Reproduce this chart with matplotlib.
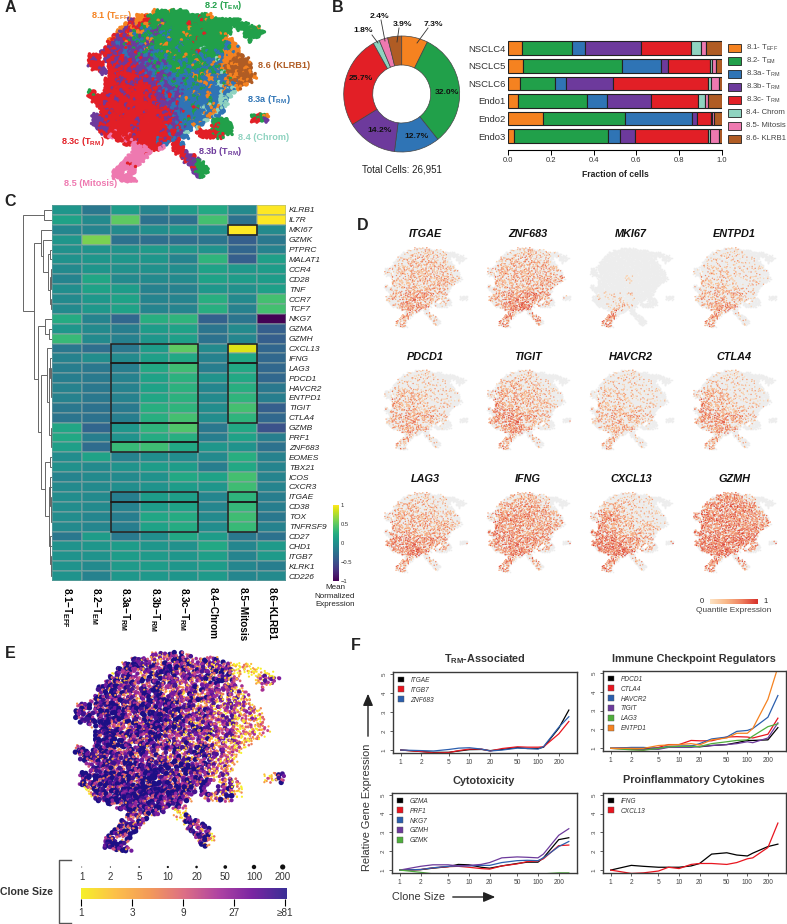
import matplotlib
matplotlib.use("Agg")
import numpy as np
import matplotlib.pyplot as plt
from matplotlib.colors import LinearSegmentedColormap
from matplotlib.patches import Patch, Rectangle

plt.rcParams['font.family'] = ['Liberation Sans', 'DejaVu Sans']
plt.rcParams['mathtext.fontset'] = 'custom'
plt.rcParams['mathtext.rm'] = 'Liberation Sans'
plt.rcParams['mathtext.it'] = 'Liberation Sans:italic'
plt.rcParams['mathtext.bf'] = 'Liberation Sans:bold'
plt.rcParams['mathtext.default'] = 'regular'

W, H = 787, 924

# cluster colours
cluster_names = ['8.1- T$_{EFF}$', '8.2- T$_{EM}$', '8.3a- T$_{RM}$', '8.3b- T$_{RM}$',
                 '8.3c- T$_{RM}$', '8.4- Chrom', '8.5- Mitosis', '8.6- KLRB1']
cluster_colors = ['#f58220', '#21a04a', '#2f74b5', '#6d3a9c', '#e21f26', '#8fd3c0', '#ee79b0', '#b05c24']
code_colors = dict(zip('ogbprtmk', cluster_colors))

# panel A on a 4 px lattice, one letter per cell
umap_rows = [
    "                 ogggogggg",
    "             oorgggggggggggggggo",
    "           proorgggpgggggggggrggggggggg",
    "          orpogogggoggggggrgggggggggggggg",
    "         oprorggbgpgggggggogggggggggg gggggo",
    "        oprpgoobgpggbgggggggggrgggggg   ggggg",
    "       rprpobgpgbgggbggggogggggggggo    gggg",
    "      orpprpgbpgoggggbggggggrggggggoo    g",
    "      rpbpgrpgbgpgggogggbggggggggggbbo",
    "     rprppbpgppogbgggggbgggggtgggggbgoo",
    "    prrprpbpprbgpgbggoggbgggrggggbgoobo",
    " rrr rprprbppgpbpbggbggggogggbgggbboookk",
    " rpr prrprprpbppgbpgbgbggbggogbbgtbookkkk",
    " rrrr rprpprprpbpgpbpgggbggbgggbobookokkkk",
    "  rrp rrprrprpppbpgbgbgoggbggbbgbgokokkkok",
    "    pprrrprprprpbpgpbbgbgbgobgobgbtgkkokkk",
    "      rrrprrrpprpbppgpbgbbgogbbobobbookkkko",
    "     rrrrprrrprpprpgbbpbbgbbogbobgbokkkokk",
    "     rrrprrrprrrpprbpbgbpbbgbbobbtbgoboko",
    "     rrprrrrprrrrprpbpbpbbgbbgbobbbobto",
    " gr  rrrrprrrrrprpprbpbpbbbobbbobbtbbt",
    " rrrrrprrrrprrrrprppbrbpbbbgbbbobbtbt",
    "  rrrrrrprrrrrrprrprpbpbbobbbbbgbbtb",
    "   rrprrrrprrrrrrprpppbrbbbgbbbobbtt",
    "    rrrrrrrrprrrrrrprpbpbbbrbbtbbob",
    "    rrprrrrrrrrprrrrprpbpbbgbbbbotb",
    "  pprrrrrprrrrrrrrprrpbpbbrbbbbotb        grgo",
    "  ppprrrrrrrrprrrrrrprbpbbgbbbt gggg      rrgp",
    "  pprprrrrrrrrrrrrrrrrpbrbbobb  grggg      ",
    "   ppprrrrrrprrrrrrrrbprbbb t   rgggg",
    "    rprrrrrrrrrrrrrprprbpt  rrrrrgggg",
    "     rmrrrrrprrrrrrrrbrpbb   rrrrgr",
    "        rrmrrrrrrrbrrrbr",
    "          rrmmrrrrrpb rrb",
    "            mmmmrrrm  rrr",
    "            mmmmm      rrp",
    "           mmmmm        rrpr",
    "          mmmmm          rppg",
    "         mmrmm            ppgg",
    "        mmmmm              rggg",
    "       mmm mm              pggg",
    "       mmmmm                pg",
    "         mmmm",
]

# heatmap panel C
heat_genes = ['KLRB1', 'IL7R', 'MKI67', 'GZMK', 'PTPRC', 'MALAT1', 'CCR4', 'CD28', 'TNF', 'CCR7',
              'TCF7', 'NKG7', 'GZMA', 'GZMH', 'CXCL13', 'IFNG', 'LAG3', 'PDCD1', 'HAVCR2', 'ENTPD1',
              'TIGIT', 'CTLA4', 'GZMB', 'PRF1', 'ZNF683', 'EOMES', 'TBX21', 'ICOS', 'CXCR3', 'ITGAE',
              'CD38', 'TOX', 'TNFRSF9', 'CD27', 'CHD1', 'ITGB7', 'KLRK1', 'CD226']
heat_cols = ['8.1\u2212T$_{EFF}$', '8.2\u2212T$_{EM}$', '8.3a\u2212T$_{RM}$', '8.3b\u2212T$_{RM}$',
             '8.3c\u2212T$_{RM}$', '8.4\u2212Chrom', '8.5\u2212Mitosis', '8.6\u2212KLRB1']
heat_vals = [
    [.05, -.2, .1, -.1, .1, .2, -.05, 1.0],
    [.15, -.05, .5, -.25, -.25, .4, -.25, 1.0],
    [-.08, -.1, -.05, -.02, .05, -.02, 1.0, -.05],
    [.05, .6, -.25, -.28, -.28, -.22, -.4, -.2],
    [0, .03, .03, .08, .05, .02, -.35, -.12],
    [.02, .05, .05, .05, -.1, .3, -.4, .12],
    [-.05, .04, 0, 0, -.03, .15, .07, .1],
    [-.1, .18, -.05, -.05, -.05, .15, .1, .1],
    [-.02, .15, .1, -.12, -.12, .06, 0, .12],
    [-.05, .07, .15, -.1, -.1, .25, -.05, .4],
    [-.05, .07, .15, -.1, -.1, .25, -.12, .4],
    [.22, -.1, -.33, .25, .3, -.38, -.22, -1],
    [.05, -.05, -.15, .1, .15, -.22, -.05, -.4],
    [.35, -.05, -.13, .05, .12, -.25, -.08, -.4],
    [-.2, -.28, -.2, .1, .5, -.05, .9, -.35],
    [-.12, -.03, -.05, .12, .2, -.12, .2, -.33],
    [-.15, -.2, -.15, .2, .38, -.15, .2, -.33],
    [-.15, -.18, -.12, .15, .28, .03, .2, -.33],
    [-.12, -.2, -.12, .15, .28, -.08, .25, -.2],
    [-.12, -.2, -.12, .18, .28, -.05, .3, -.15],
    [-.2, -.25, -.18, .25, .3, -.03, .4, -.4],
    [-.22, -.25, -.15, .25, .4, -.03, .3, -.33],
    [.18, -.35, .05, .3, .45, -.2, .2, -.5],
    [.2, -.15, .03, .22, .25, -.15, .15, -.15],
    [.12, -.3, .35, .38, .2, .05, .03, -.25],
    [-.03, .15, -.12, -.02, -.03, -.05, .25, -.12],
    [0, -.05, .03, .1, .1, -.15, .2, -.1],
    [-.1, -.05, -.05, .02, .2, .15, .4, -.1],
    [-.05, -.05, -.02, .03, .1, .05, .38, -.1],
    [-.03, -.05, -.15, .1, .12, -.08, .3, -.15],
    [-.03, -.05, -.12, .1, .15, -.08, .33, -.15],
    [-.03, -.08, -.15, .18, .22, -.05, .38, -.2],
    [-.05, -.08, -.15, .15, .22, -.03, .35, -.12],
    [-.2, .1, -.18, -.02, .2, .1, -.2, -.25],
    [.03, .05, .1, .05, 0, .2, -.08, .08],
    [.03, .03, .1, .08, .05, .12, -.1, .08],
    [.03, -.05, .08, .1, .05, .1, -.08, -.15],
    [.03, -.12, .06, .07, .04, .08, -.08, -.05],
]
# (first col, last col, first row, last row)
heat_boxes = [(2, 4, 14, 15), (2, 4, 16, 21), (2, 4, 22, 23), (2, 4, 24, 24), (2, 4, 29, 29), (2, 4, 30, 32),
              (6, 6, 2, 2), (6, 6, 14, 15), (6, 6, 16, 21), (6, 6, 29, 29), (6, 6, 30, 32)]
# nested merges: (height, left, right)
dendro = (29, (8, 'KLRB1', 'IL7R'),
          (18,
           (11, 'MKI67', (9.5, 'GZMK',
                          (4, (2.5, 'PTPRC', 'MALAT1'),
                           (2.5, (1.5, 'CCR4', (1, 'CD28', 'TNF')), (1, 'CCR7', 'TCF7'))))),
           (14, (7.7, 'NKG7', (3, 'GZMA', 'GZMH')),
            (11.5,
             (5.5, 'CXCL13', (3, (2, 'IFNG', (1.5, 'LAG3', (1, 'PDCD1', (.8, 'HAVCR2', (.6, 'ENTPD1', (.4, 'TIGIT', 'CTLA4')))))),
                              (1.5, 'GZMB', (1, 'PRF1', 'ZNF683')))),
             (7.5, (2.5, 'EOMES', 'TBX21'),
              (3.5, (2.5, 'ICOS', (2, 'CXCR3', (1.5, 'ITGAE', (1, 'CD38', (.6, 'TOX', 'TNFRSF9'))))),
               (2.5, 'CD27', (2, 'CHD1', (1.5, 'ITGB7', (1, 'KLRK1', 'CD226'))))))))))

# pie and stacked bars panel B
pie_share = [7.3, 32.0, 12.7, 14.2, 25.7, 1.8, 2.4, 3.9]
samples = ['NSCLC4', 'NSCLC5', 'NSCLC6', 'Endo1', 'Endo2', 'Endo3']
sample_frac = [
    [.067, .233, .061, .259, .234, .046, .024, .076],
    [.072, .462, .183, .029, .198, .008, .018, .030],
    [.058, .160, .053, .220, .444, .015, .038, .012],
    [.048, .320, .093, .206, .222, .030, .017, .064],
    [.162, .385, .311, .024, .068, .005, .008, .037],
    [.027, .439, .059, .070, .338, .011, .042, .014],
]

# panel D, share of expressing cells per coarse region of the map (0-9)
expr_genes = ['ITGAE', 'ZNF683', 'MKI67', 'ENTPD1', 'PDCD1', 'TIGIT', 'HAVCR2', 'CTLA4', 'LAG3', 'IFNG', 'CXCL13', 'GZMH']
expr_itgae = ["0013331000", "0234443100", "3344444321", "2344444430", "3345544320", "3567754302", "0376653000", "0565144000", "0640530000"]
expr_znf683 = ["0023432100", "0344544100", "4455555421", "3455555560", "3455655540", "4677886532", "0588974000", "0783166000", "0860760000"]
expr_mki67 = ["0000000000", "0000000000", "0000000000", "0000100000", "0000000000", "0111100000", "0023100000", "0480000000", "0870000000"]
expr_entpd1 = ["0011110000", "0122211000", "2233222110", "2333222210", "2344322210", "3555542101", "0466631000", "0574122000", "0750310000"]
expr_pdcd1 = ["0011210000", "0222221000", "2344322110", "3544322210", "3555432210", "3666553102", "0465431000", "0453132000", "0630310000"]
expr_tigit = ["0022320000", "0344332100", "4555443210", "4655443320", "5766543320", "6788654203", "0577543000", "0563143000", "0740520000"]
expr_havcr2 = ["0011210000", "0122211000", "2333211100", "2333222110", "3444332100", "3555543102", "0344431000", "0443022000", "0540310000"]
expr_ctla4 = ["0011110000", "0232211000", "4454211100", "4654321110", "5755432210", "5777653102", "0566532000", "0552132000", "0640310000"]
expr_lag3 = ["0023321000", "0344332100", "4455543320", "4555544430", "5666554430", "7888776403", "0789765000", "0664143000", "0750520000"]
expr_ifng = ["0034541000", "0466665200", "5677766530", "6777665650", "6877666550", "6888876505", "0688775000", "0783165000", "0860740000"]
expr_cxcl13 = ["0012221000", "0344321100", "5675322110", "6764433320", "7876553320", "9998765407", "0999875000", "0884143000", "0960420000"]
expr_gzmh = ["0067762000", "0788887300", "7888877640", "7888877760", "7888887760", "8999998607", "0999886000", "0885287000", "0870850000"]
expr_grids = [expr_itgae, expr_znf683, expr_mki67, expr_entpd1, expr_pdcd1, expr_tigit,
              expr_havcr2, expr_ctla4, expr_lag3, expr_ifng, expr_cxcl13, expr_gzmh]

# panel E, typical clone size class per coarse region (0 small - 9 large)
clone_grid = ["0065655000", "0656555440", "7766654310", "7766554220", "7766554310", "7777664327", "0777765000", "0765077000", "0766760000"]
clone_legend = [1, 2, 5, 10, 20, 50, 100, 200]
clone_ticks = ['1', '3', '9', '27', '\u226581']

# hand scrambled digits, used to break the lattice into speckle
speckle = ["3810627495138", "6295183074926", "0748361952704", "9153706284139",
           "4627915038562", "1809342761985", "7356028491370", "2941675803614",
           "8063294157829", "5172840639251", "0496517382047"]

# panel F
clone_x = [1, 2, 3, 5, 7, 10, 15, 20, 30, 50, 70, 100, 120, 200, 280]
clone_xticks = [1, 2, 5, 10, 20, 50, 100, 200]
line_colors = ['#000000', '#e8151f', '#2b5fae', '#6d3a9c', '#4fae3c', '#f58220']
trm_assoc = {
    'ITGAE': [1.0, .92, .88, .88, .95, 1.02, 1.03, .97, 1.03, 1.13, 1.08, 1.08, 1.15, 2.15, 3.1],
    'ITGB7': [1.0, .92, .85, .87, .97, 1.05, 1.05, .95, 1.08, 1.17, 1.15, 1.15, 1.17, 1.85, 2.5],
    'ZNF683': [1.0, .97, .95, 1.03, 1.1, 1.12, 1.05, .95, 1.0, 1.1, 1.08, 1.05, 1.18, 2.2, 2.75],
}
checkpoints = {
    'PDCD1': [1, 1.02, 1.0, 1.0, 1.08, 1.1, 1.12, 1.08, 1.15, 1.2, 1.3, 1.42, 1.42, 1.45, 2.1],
    'CTLA4': [1, .95, .92, 1.05, 1.2, 1.2, 1.42, 1.4, 1.4, 1.6, 1.62, 1.6, 1.55, 1.75, 2.6],
    'HAVCR2': [1, 1.05, 1.05, 1.0, 1.1, 1.12, 1.12, 1.25, 1.5, 1.6, 1.9, 1.95, 2.05, 2.65, 3.8],
    'TIGIT': [1, 1.0, .95, .95, 1.05, 1.05, 1.05, 1.1, 1.15, 1.2, 1.25, 1.35, 1.3, 1.55, 2.35],
    'LAG3': [1, .92, .9, 1.0, 1.08, 1.1, 1.1, 1.1, 1.25, 1.35, 1.42, 1.45, 1.65, 2.15, 2.3],
    'ENTPD1': [1, 1.0, 1.0, 1.15, 1.18, 1.2, 1.25, 1.18, 1.45, 1.55, 1.8, 1.8, 2.05, 3.6, 5.3],
}
cytotox = {
    'GZMA': [1, 1.02, 1.1, 1.18, 1.3, 1.28, 1.15, 1.1, 1.22, 1.35, 1.42, 1.42, 1.65, 2.62, 2.72],
    'PRF1': [1, 1.03, 1.12, 1.18, 1.2, 1.15, 1.08, 1.05, 1.22, 1.33, 1.45, 1.48, 1.6, 2.3, 2.33],
    'NKG7': [1, 1.03, 1.12, 1.2, 1.22, 1.22, 1.25, 1.25, 1.4, 1.5, 1.52, 1.5, 1.65, 2.25, 2.52],
    'GZMH': [1, 1.2, 1.28, 1.28, 1.22, 1.25, 1.3, 1.4, 1.65, 1.7, 1.68, 1.65, 1.85, 2.85, 3.2],
    'GZMK': [1, .88, .8, .75, .72, .7, .7, .7, .72, .75, .75, .78, .8, .85, .85],
}
cytokines = {
    'IFNG': [1, 1.25, 1.2, 1.15, 1.15, 1.15, 1.22, 1.35, 1.85, 1.92, 1.8, 1.75, 1.9, 2.25, 2.38],
    'CXCL13': [1, .82, .85, .95, 1.15, 1.08, 1.3, 1.35, 1.35, 1.3, 1.4, 1.6, 1.65, 2.2, 3.5],
}

fig = plt.figure(figsize=(W / 100, H / 100), dpi=100)


def ax_px(l, t, r, b, **kw):
    return fig.add_axes([l / W, 1 - b / H, (r - l) / W, (b - t) / H], **kw)


def scramble(c, r, shift=0):
    # two lookups in the digit table, so the repeat of the table does not show
    d1 = int(speckle[(r + shift) % 11][(c + 2 * shift) % 13])
    d2 = int(speckle[(3 * r + c) % 11][(5 * c + r + shift) % 13])
    return (d1 + d2) % 10


def sub_dots():
    # each lattice cell of the map becomes 4 dots, pushed off the grid by the digit table
    xs, ys, cells, keys = [], [], [], []
    for r, row in enumerate(umap_rows):
        for c, ch in enumerate(row):
            if ch == ' ':
                continue
            for i in range(2):
                for j in range(2):
                    a, b = 2 * c + i, 2 * r + j
                    xs.append(c + (i - .5) * .5 + (scramble(a, b, 2) - 4.5) * .08)
                    ys.append(r + (j - .5) * .5 + (scramble(a, b, 7) - 4.5) * .08)
                    cells.append((c, r))
                    keys.append((a, b))
    return np.array(xs), np.array(ys), cells, keys


def map_axes(x0, y0, scale):
    # x0, y0 is where lattice cell (0, 0) lands in the figure
    step = 4 * scale
    ax = ax_px(x0, y0, x0 + 50 * step, y0 + 43 * step)
    ax.set_xlim(-.5, 49.5)
    ax.set_ylim(42.5, -.5)
    ax.axis('off')
    return ax


def grid_level(grid, c, r):
    # lattice cell to coarse region
    return int(grid[min(r * 4 // 19, 8)][min(c // 5, 9)])


def cell_letter(c, r, a, b):
    # mostly the cell's own cluster, sometimes a neighbour's
    own = umap_rows[r][c]
    d = scramble(a, b, 4)
    if d < 7:
        return own
    c2, r2 = c + (1 if b % 2 else -1), r + (d - 8)
    if 0 <= r2 < len(umap_rows) and 0 <= c2 < len(umap_rows[r2]) and umap_rows[r2][c2] != ' ':
        return umap_rows[r2][c2]
    return own


sx, sy, sub_cells, sub_keys = sub_dots()

# panel A
ax = map_axes(84, 10, 1)
base_x = [c for c, r in sub_cells[::4]]
base_y = [r for c, r in sub_cells[::4]]
base_c = [code_colors[umap_rows[r][c]] for c, r in sub_cells[::4]]
ax.scatter(base_x, base_y, s=15, c=base_c, linewidths=0, clip_on=False)
cols = [code_colors[cell_letter(c, r, a, b)] for (c, r), (a, b) in zip(sub_cells, sub_keys)]
ax.scatter(sx, sy, s=6, c=cols, linewidths=0, clip_on=False)

# panel B pie
ax = ax_px(401.7 - 60, 94 - 60, 401.7 + 60, 94 + 60)
ax.pie(pie_share, colors=cluster_colors, startangle=90, counterclock=False, radius=58 / 60,
       wedgeprops=dict(width=29 / 60, edgecolor='#444444', linewidth=.5))
ax.set_xlim(-1, 1)
ax.set_ylim(-1, 1)

# panel B bars
ax = ax_px(508, 38, 722, 147)
left = np.zeros(len(samples))
fracs = np.array(sample_frac)
for j in range(8):
    ax.barh(range(len(samples)), fracs[:, j], left=left, height=.78, color=cluster_colors[j],
            edgecolor='#222222', linewidth=.8)
    left += fracs[:, j]
ax.set_xlim(0, 1)
ax.set_ylim(5.62, -.58)
ax.set_yticks(range(len(samples)), samples, fontsize=6.8, color='#333333')
ax.tick_params(axis='y', length=0, pad=2)
ax.set_xticks(np.arange(0, 1.01, .2))
ax.tick_params(axis='x', labelsize=5.5, length=3.5, width=.7, pad=2, labelcolor='#333333')
for s in ['top', 'left', 'right']:
    ax.spines[s].set_visible(False)
ax.spines['bottom'].set_position(('outward', 2))
ax.set_xlabel('Fraction of cells', fontsize=6.2, fontweight='bold', labelpad=4, color='#222222')

# panel C heatmap
ax = ax_px(52.3, 205, 286, 581)
mesh = ax.pcolormesh(np.array(heat_vals), cmap='viridis', vmin=-1, vmax=1,
                     edgecolors=(.55, .65, .65, .45), linewidth=.25)
ax.set_ylim(len(heat_genes), 0)
ax.set_yticks(np.arange(len(heat_genes)) + .5, heat_genes, fontsize=6, style='italic', color='#222222')
ax.yaxis.tick_right()
ax.set_xticks(np.arange(8) + .5, heat_cols, fontsize=7.2, fontweight='bold', rotation=-90)
ax.tick_params(length=0, pad=2)
ax.tick_params(axis='x', pad=4)
for s in ax.spines.values():
    s.set_visible(False)
for c0, c1, r0, r1 in heat_boxes:
    ax.add_patch(Rectangle((c0, r0), c1 - c0 + 1, r1 - r0 + 1, fill=False, edgecolor='#1a1a1a', linewidth=1.1, clip_on=False))

# dendrogram shares the rows of the heatmap
dax = ax_px(22, 205, 52.3, 581)
dax.set_xlim(30.3, 0)
dax.set_ylim(len(heat_genes), 0)
dax.axis('off')


def draw_tree(node):
    if isinstance(node, str):
        return heat_genes.index(node) + .5, 0
    h, a, b = node
    ya, ha = draw_tree(a)
    yb, hb = draw_tree(b)
    dax.plot([ha, h, h, hb], [ya, ya, yb, yb], color='#666666', lw=.7, solid_joinstyle='miter')
    return (ya + yb) / 2, h


draw_tree(dendro)

cax = ax_px(332.7, 505, 338.3, 581)
cax.imshow(np.linspace(1, -1, 256)[:, None], cmap='viridis', aspect='auto', extent=[0, 1, -1, 1])
cax.set_xticks([])
cax.yaxis.tick_right()
cax.set_yticks([-1, -.5, 0, .5, 1], ['\u22121', '\u22120.5', '0', '0.5', '1'], fontsize=4.2, color='#333333')
cax.tick_params(length=0, pad=1.5)
for s in cax.spines.values():
    s.set_visible(False)

# panel D small maps
expr_cmap = LinearSegmentedColormap.from_list('quant', ['#fde3c4', '#f9b98a', '#ee7f5e', '#d7302a'])
for i, (gene, grid) in enumerate(zip(expr_genes, expr_grids)):
    ax = map_axes(383 + 103 * (i % 4) - .5, 248 + 122.4 * (i // 4), .46)
    vals = []
    for (c, r), (a, b) in zip(sub_cells, sub_keys):
        lev = grid_level(grid, c, r)
        if (scramble(a, b) + .5) / 10 < lev / 15:
            vals.append(.5 * (scramble(a, b, 5) / 9) ** 1.5 + .5 * lev / 9)
        else:
            vals.append(np.nan)
    vals = np.array(vals)
    off = np.isnan(vals)
    ax.scatter(sx[off], sy[off], s=1.3, c='#ededed', linewidths=0, clip_on=False)
    ax.scatter(sx[~off], sy[~off], s=1.0, c=vals[~off], cmap=expr_cmap, vmin=0, vmax=1, linewidths=0, clip_on=False)

cax = ax_px(710, 599, 758, 604)
cax.imshow(np.linspace(0, 1, 256)[None, :], cmap=expr_cmap, aspect='auto')
cax.axis('off')

# panel E
clone_cmap = LinearSegmentedColormap.from_list('clone', ['#f6f02a', '#fdc04a', '#f39a5a', '#dd6f85', '#b044a2', '#7a25a2', '#3a2f96'])
clone_dots = LinearSegmentedColormap.from_list('cloned', ['#f6f02a', '#fdb03a', '#ee7a5a', '#c23f8f', '#7a1ba0', '#1c0f85'])
ax = map_axes(72 - 1.154, 653, 1.155)
ev = []
for (c, r), (a, b) in zip(sub_cells, sub_keys):
    ev.append(np.clip((grid_level(clone_grid, c, r) + (scramble(a, b, 3) - 4.5) * .9) / 9, 0, 1))
ev = np.array(ev)
ax.scatter(sx, sy, s=2.5 + 12 * ev ** 3, c=ev, cmap=clone_dots, linewidths=0, clip_on=False)

# panel E legend
ax = ax_px(81.7, 862, 282.7, 872)
ax.scatter(range(len(clone_legend)), [0] * len(clone_legend), s=[.5, .8, 1.5, 2.5, 3.5, 7, 10, 14], c='#111111', linewidths=0, clip_on=False)
ax.set_xlim(0, len(clone_legend) - 1)
ax.axis('off')
cax = ax_px(81, 888, 287, 899)
cax.imshow(np.linspace(0, 1, 256)[None, :], cmap=clone_cmap, aspect='auto', extent=[0, 4.03, 0, 1])
cax.set_yticks([])
cax.set_xticks(range(5), clone_ticks, fontsize=7.2, color='#333333')
cax.tick_params(axis='x', length=5, width=.8, pad=1.5)
for s in cax.spines.values():
    s.set_visible(False)

# panel F
f_panels = [
    ('T$_{RM}$-Associated', trm_assoc, (393, 672, 577, 752.7), (485, 659)),
    ('Immune Checkpoint Regulators', checkpoints, (603, 671, 786, 751), (694, 659)),
    ('Cytotoxicity', cytotox, (392, 793, 577, 872.7), (484, 781)),
    ('Proinflammatory Cytokines', cytokines, (603, 793, 786, 872.7), (694, 780)),
]
for title, series, box, _ in f_panels:
    ax = ax_px(*box)
    for (name, vals), col in zip(series.items(), line_colors):
        ax.plot(clone_x, vals, color=col, lw=.9, label=name)
    ax.set_xscale('log')
    ax.set_xlim(.77, 368)
    ax.set_ylim(.86, 5.1)
    ax.set_xticks(clone_xticks, [str(v) for v in clone_xticks], fontsize=4.8, color='#444444')
    ax.minorticks_off()
    ax.set_yticks([1, 2, 3, 4, 5])
    ax.set_yticklabels(['1', '2', '3', '4', '5'], fontsize=4.5, rotation=90, va='center', color='#444444')
    ax.tick_params(length=2.5, width=.6, pad=2, color='#444444')
    for s in ax.spines.values():
        s.set_color('#3a3a3a')
        s.set_linewidth(1)
    handles = [Patch(facecolor=col, edgecolor='#555555', linewidth=.3, label=name)
               for name, col in zip(series, line_colors)]
    ax.legend(handles=handles, loc='upper left', frameon=False, handlelength=1, handleheight=1,
              handletextpad=1, labelspacing=.42, borderaxespad=.3, prop=dict(size=4.7, style='italic'), labelcolor='#333333')

# everything written at figure positions goes on one transparent layer
px = ax_px(0, 0, W, H)
px.set_xlim(0, W)
px.set_ylim(H, 0)
px.axis('off')


def label(x, y, s, size, **kw):
    kw.setdefault('ha', 'center')
    kw.setdefault('va', 'center')
    kw.setdefault('color', '#222222')
    px.text(x, y, s, fontsize=size, **kw)


for s, x, y in [('A', 10, 8), ('B', 338, 8), ('C', 10, 201), ('D', 363, 225), ('E', 10, 654), ('F', 356, 646)]:
    label(x, y, s, 11.5, fontweight='bold')

a_labels = [('8.1 (T$_{EFF}$)', 111, 16, 0), ('8.2 (T$_{EM}$)', 223, 6, 1), ('8.6 (KLRB1)', 284, 66, 7),
            ('8.3a (T$_{RM}$)', 269, 100, 2), ('8.4 (Chrom)', 264, 137, 5), ('8.3b (T$_{RM}$)', 220, 151, 3),
            ('8.3c (T$_{RM}$)', 83, 142, 4), ('8.5 (Mitosis)', 91, 183, 6)]
for s, x, y, k in a_labels:
    label(x, y, s, 6.6, fontweight='bold', color=cluster_colors[k])

pie_labels = [('7.3%', 433, 24), ('3.9%', 403, 24), ('2.4%', 379, 16), ('1.8%', 363, 31),
              ('32.0%', 447, 93), ('12.7%', 417, 136), ('14.2%', 380, 131), ('25.7%', 361, 78)]
for s, x, y in pie_labels:
    label(x, y, s, 6.1, fontweight='bold', color='#111111')
for x0, y0, x1, y1 in [(428, 28, 417, 43), (399, 28, 397, 42), (381, 20, 385, 41), (372, 35, 378, 43)]:
    px.plot([x0, x1], [y0, y1], color='#333333', lw=.6)
label(401.7, 169, 'Total Cells: 26,951', 7)

for k, name in enumerate(cluster_names):
    y = 47.7 + 13 * k
    px.add_patch(Rectangle((728, y - 4), 13, 8, facecolor=cluster_colors[k], edgecolor='#222222', linewidth=.6))
    label(746, y, name, 5.6, ha='left', color='#444444')

for s, y in [('Mean', 587.7), ('Normalized', 596), ('Expression', 605)]:
    label(335, y, s, 5.8, color='#222222')

for i, gene in enumerate(expr_genes):
    label(425 + 103 * (i % 4), 234 + 122.5 * (i // 4), gene, 7.8, fontweight='bold', style='italic', color='#111111')
label(702, 601.7, '0', 5.5)
label(766, 601.7, '1', 5.5)
label(734, 611, 'Quantile Expression', 6, color='#444444')

for v, x in zip(clone_legend, np.linspace(81.7, 282.7, 8)):
    label(x, 877, str(v), 7, color='#333333')
label(27, 892, 'Clone Size', 7.6, fontweight='bold', color='#333333')
px.plot([71, 59, 59, 71], [860, 860, 923, 923], color='#555555', lw=1)

for title, _, _, (x, y) in f_panels:
    label(x, y, title, 7.8, fontweight='bold', color='#333333')
label(367, 807, 'Relative Gene Expression', 7.9, rotation=90, color='#333333')
label(418, 897, 'Clone Size', 7.8, color='#333333')
for start, end in [((368, 739), (368, 691)), ((450, 897), (498, 897))]:
    px.annotate('', xy=end, xytext=start, arrowprops=dict(arrowstyle='-|>,head_width=.3,head_length=.7', color='#222222', lw=1))

fig.savefig('out.png', dpi=100)
